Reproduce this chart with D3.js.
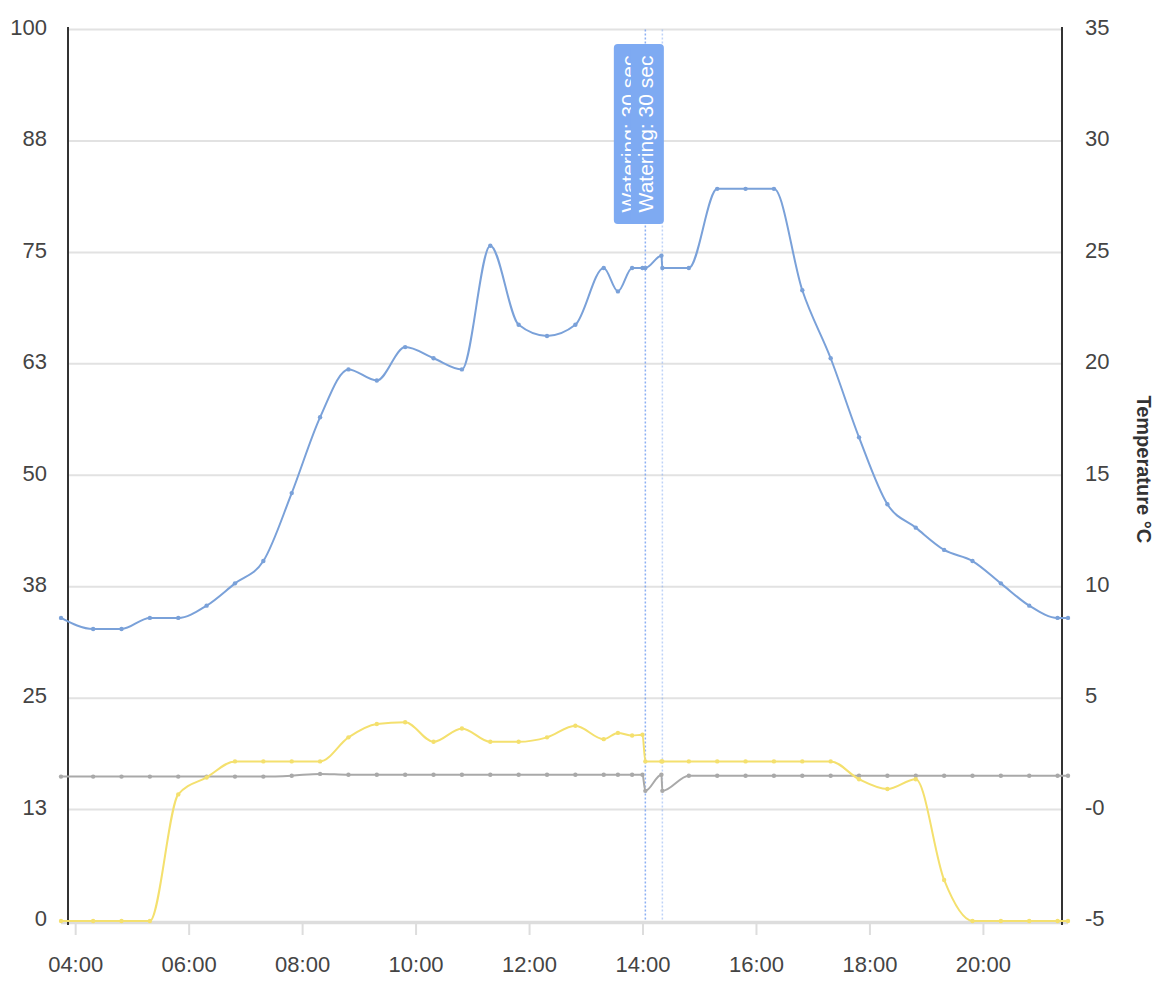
<!DOCTYPE html>
<html><head><meta charset="utf-8">
<script src="https://cdn.jsdelivr.net/npm/d3@7"></script>
<style>
body{margin:0;background:#fff}
svg{display:block}
text{font-family:"Liberation Sans",Arial,Helvetica,sans-serif}
</style>
</head><body>
<svg id="c" width="1172" height="1000"></svg>
<script>
// ---- data ----
const times = ["03:45","04:19","04:49","05:19","05:49","06:19","06:49","07:19","07:49","08:19",
  "08:49","09:19","09:49","10:19","10:49","11:19","11:49","12:19","12:49","13:19",
  "13:34","13:49","14:00","14:03","14:20","14:21","14:49","15:19","15:49","16:19",
  "16:49","17:19","17:49","18:19","18:49","19:19","19:49","20:19","20:49","21:19","21:30"];
const temperature = [8.6,8.1,8.1,8.6,8.6,9.15,10.15,11.15,14.2,17.6,
  19.75,19.25,20.75,20.25,19.75,25.3,21.75,21.25,21.75,24.3,
  23.25,24.3,24.3,24.3,24.85,24.3,24.3,27.85,27.85,27.85,
  23.3,20.25,16.7,13.7,12.65,11.65,11.15,10.15,9.15,8.6,8.6];
const light = [0,0,0,0,14.2,16.1,17.9,17.9,17.9,17.9,
  20.6,22.1,22.3,20.1,21.6,20.1,20.1,20.6,21.9,20.4,
  21.1,20.8,20.9,17.9,17.9,17.9,17.9,17.9,17.9,17.9,
  17.9,17.9,15.9,14.8,15.9,4.6,0,0,0,0,0];
const moisture = [16.2,16.2,16.2,16.2,16.2,16.2,16.2,16.2,16.3,16.5,
  16.4,16.4,16.4,16.4,16.4,16.4,16.4,16.4,16.4,16.4,
  16.4,16.4,16.4,14.6,16.4,14.6,16.3,16.3,16.3,16.3,
  16.3,16.3,16.3,16.3,16.3,16.3,16.3,16.3,16.3,16.3,16.3];
const wateringTimes = ["14:03","14:21"];
const wateringLabels = ["Watering: 30 sec","Watering: 30 sec"];
const xDomain = ["03:45","21:30"];
const xTickLabels = ["04:00","06:00","08:00","10:00","12:00","14:00","16:00","18:00","20:00"];
const leftTicks = [0,12.5,25,37.5,50,62.5,75,87.5,100];
const rightTicks = [-5,0,5,10,15,20,25,30,35];
const rightTickLabels = ["-5","-0","5","10","15","20","25","30","35"];
const rightTitle = "Temperature °C";

// ---- styles ----
const C_BLUE = "#7aa1d9", C_YEL = "#f4e06e", C_GRAY = "#a9a9a9";
const svg = d3.select("#c");
const parse = d3.timeParse("%H:%M");
const X0 = 61, X1 = 1068, AXL = 68, AXR = 1062, TOP = 29.5, BOT = 921;

const x = d3.scaleTime().domain(xDomain.map(parse)).range([X0, X1]);
const yL = d3.scaleLinear().domain([0,100]).range([BOT, TOP]);
const yR = d3.scaleLinear().domain([-5,35]).range([BOT, TOP]);

// gridlines
svg.append("g").selectAll("line").data(leftTicks.filter(v => v > 0)).join("line")
  .attr("x1", AXL).attr("x2", AXR)
  .attr("y1", d => yL(d)).attr("y2", d => yL(d))
  .attr("stroke", "#e2e2e2").attr("stroke-width", 2);

// x baseline
svg.append("line").attr("x1", X0).attr("x2", X1).attr("y1", BOT + 1.5).attr("y2", BOT + 1.5)
  .attr("stroke", "#dddddd").attr("stroke-width", 3.5);

// x axis
const xa = svg.append("g").attr("transform", `translate(0,${BOT + 2})`)
  .call(d3.axisBottom(x).tickValues(xTickLabels.map(parse)).tickFormat(d3.timeFormat("%H:%M"))
    .tickSize(12).tickPadding(21));
xa.select(".domain").remove();
xa.selectAll(".tick line").attr("stroke", "#dddddd").attr("stroke-width", 2);
xa.selectAll(".tick text").attr("font-size", 22).attr("fill", "#444").attr("font-family", null);

// left axis
const la = svg.append("g").attr("transform", `translate(${AXL},0)`)
  .call(d3.axisLeft(yL).tickValues(leftTicks).tickFormat(d => String(Math.round(d))).tickSize(0).tickPadding(21));
la.select(".domain").remove();
la.selectAll(".tick text").attr("font-size", 22).attr("fill", "#444").attr("dy", "0.22em").attr("font-family", null);

// right axis
const ra = svg.append("g").attr("transform", `translate(${AXR},0)`)
  .call(d3.axisRight(yR).tickValues(rightTicks).tickFormat((d, i) => rightTickLabels[i]).tickSize(0).tickPadding(23));
ra.select(".domain").remove();
ra.selectAll(".tick text").attr("font-size", 22).attr("fill", "#444").attr("dy", "0.22em").attr("font-family", null);

// axis lines
[AXL, AXR].forEach(ax => svg.append("line").attr("x1", ax).attr("x2", ax).attr("y1", 27).attr("y2", 925)
  .attr("stroke", "#333").attr("stroke-width", 2));

// right title
svg.append("text").attr("transform", `translate(1144,${(TOP + BOT) / 2 - 6}) rotate(90)`)
  .attr("text-anchor", "middle").attr("dominant-baseline", "central")
  .attr("font-size", 20).attr("font-weight", "bold").attr("fill", "#333").text(rightTitle);

// watering lines
wateringTimes.forEach((t, i) => {
  const lx = x(parse(t));
  svg.append("line").attr("x1", lx).attr("x2", lx).attr("y1", TOP).attr("y2", BOT)
    .attr("stroke", "#6f9cf0").attr("stroke-opacity", i === 0 ? 0.8 : 0.45)
    .attr("stroke-width", 1.5).attr("stroke-dasharray", "2,2");
});

// series
const pts = times.map(parse);
function series(vals, yScale, color) {
  const data = pts.map((t, i) => [t, vals[i]]);
  const line = d3.line().x(d => x(d[0])).y(d => yScale(d[1])).curve(d3.curveMonotoneX);
  svg.append("path").datum(data).attr("d", line).attr("fill", "none")
    .attr("stroke", color).attr("stroke-width", 2);
  svg.append("g").selectAll("circle").data(data).join("circle")
    .attr("cx", d => x(d[0])).attr("cy", d => yScale(d[1])).attr("r", 2.2).attr("fill", color);
}
series(moisture, yL, C_GRAY);
series(light, yL, C_YEL);
series(temperature, yR, C_BLUE);

// watering labels
wateringTimes.forEach((t, i) => {
  const lx = x(parse(t));
  const W = 33, by = 44, bh = 180;
  svg.append("rect").attr("x", lx - 31.5).attr("y", by).attr("width", W).attr("height", bh)
    .attr("rx", 4).attr("fill", "#7eaaf2");
  svg.append("text").attr("transform", `translate(${lx - 16.5},${by + bh / 2}) rotate(-90)`)
    .attr("text-anchor", "middle").attr("dominant-baseline", "central")
    .attr("font-size", 21).attr("fill", "#fff").text(wateringLabels[i]);
});
</script>
</body></html>
